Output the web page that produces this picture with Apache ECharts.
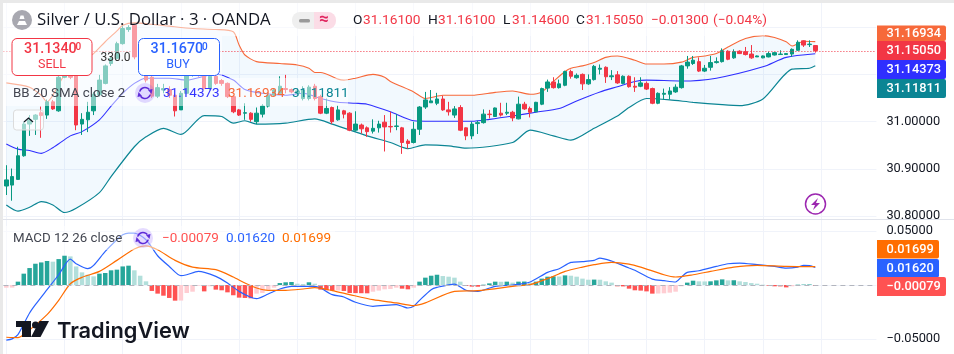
<!DOCTYPE html>
<html>
<head>
<meta charset="utf-8">
<title>Silver / U.S. Dollar</title>
<script src="https://cdn.jsdelivr.net/npm/echarts@6/dist/echarts.min.js"></script>
<style>
  html, body { margin: 0; padding: 0; background: #fff; }
  #chart { width: 954px; height: 354px; }
</style>
</head>
<body>
<div id="chart"></div>
<script>
// values, one entry per 3 minute bar
const candleOpen = [
  30.864,30.866,30.878,30.928,30.995,31.005,31.019,31.014,31.042,31.023,
  31.094,31.097,31.099,30.995,31.004,31.023,31.057,31.081,31.123,31.134,
  31.165,31.195,31.204,31.137,31.116,31.094,31.054,31.067,31.068,31.056,
  31.025,31.06,31.099,31.123,31.099,31.07,31.096,31.087,31.081,31.053,
  31.025,31.018,31.018,31.0,31.016,31.033,31.056,31.06,31.07,31.068,
  31.06,31.049,31.049,31.075,31.053,31.018,31.03,31.004,31.023,31.018,
  30.982,30.993,30.987,30.98,30.987,30.999,30.99,30.99,30.987,30.959,
  30.956,30.984,31.031,31.04,31.039,31.048,31.025,31.014,31.03,30.987,
  30.97,30.996,30.998,31.016,31.011,31.018,31.018,31.02,31.006,31.037,
  31.028,31.021,31.037,31.071,31.084,31.072,31.077,31.106,31.093,31.1,
  31.08,31.089,31.111,31.115,31.095,31.099,31.081,31.096,31.075,31.075,
  31.081,31.07,31.039,31.058,31.058,31.063,31.072,31.118,31.123,31.127,
  31.107,31.115,31.125,31.127,31.149,31.135,31.149,31.148,31.143,31.137,
  31.135,31.137,31.141,31.142,31.142,31.143,31.151,31.171,31.163,31.161
];
const candleClose = [
  30.877,30.884,30.928,30.995,31.004,31.014,31.013,31.042,31.027,31.094,
  31.099,31.094,30.993,31.005,31.02,31.058,31.088,31.118,31.134,31.165,
  31.197,31.199,31.137,31.116,31.088,31.054,31.072,31.07,31.056,31.023,
  31.06,31.099,31.116,31.099,31.07,31.096,31.081,31.081,31.053,31.021,
  31.014,31.019,31.005,31.018,31.033,31.056,31.067,31.075,31.068,31.063,
  31.065,31.067,31.073,31.049,31.018,31.028,31.0,31.025,31.016,30.982,
  30.995,30.985,30.979,30.986,30.995,30.989,30.989,30.991,30.956,30.954,
  30.984,31.031,31.046,31.044,31.048,31.025,31.021,31.027,30.982,30.97,
  30.995,30.998,31.016,31.015,31.029,31.014,31.02,31.008,31.037,31.027,
  31.02,31.041,31.07,31.084,31.072,31.08,31.106,31.096,31.098,31.08,
  31.089,31.117,31.113,31.095,31.097,31.082,31.096,31.074,31.073,31.082,
  31.069,31.039,31.06,31.06,31.065,31.073,31.118,31.126,31.13,31.107,
  31.113,31.125,31.127,31.15,31.132,31.148,31.144,31.142,31.135,31.139,
  31.139,31.144,31.146,31.143,31.144,31.153,31.168,31.162,31.164,31.1505
];
const candleLow = [
  30.845,30.833,30.877,30.926,30.97,30.972,30.966,31.006,31.025,31.021,
  31.092,31.09,30.982,30.972,30.978,31.014,31.053,31.079,31.118,31.132,
  31.163,31.19,31.132,31.11,31.083,31.05,31.05,31.06,31.05,31.011,
  31.025,31.058,31.095,31.095,31.068,31.066,31.078,31.076,31.05,31.018,
  31.012,31.004,31.0,30.995,31.009,31.03,31.054,31.058,31.06,31.06,
  31.055,31.045,31.045,31.045,31.016,31.016,30.995,31.002,31.007,30.98,
  30.979,30.975,30.968,30.975,30.977,30.937,30.977,30.982,30.932,30.943,
  30.954,30.972,31.027,31.04,31.035,31.023,31.013,31.008,30.98,30.961,
  30.963,30.974,30.996,31.007,31.01,31.011,31.014,31.001,31.005,31.025,
  31.009,31.02,31.035,31.063,31.07,31.07,31.075,31.091,31.091,31.067,
  31.078,31.087,31.1,31.082,31.088,31.08,31.079,31.072,31.063,31.073,
  31.067,31.037,31.037,31.047,31.047,31.061,31.07,31.112,31.12,31.105,
  31.105,31.108,31.123,31.125,31.13,31.133,31.143,31.14,31.133,31.137,
  31.134,31.136,31.14,31.141,31.141,31.137,31.15,31.158,31.158,31.146
];
const candleHigh = [
  30.908,30.901,30.947,31.0,31.014,31.016,31.032,31.047,31.046,31.099,
  31.116,31.105,31.101,31.018,31.042,31.063,31.099,31.121,31.138,31.169,
  31.202,31.204,31.206,31.14,31.12,31.098,31.08,31.08,31.075,31.06,
  31.065,31.105,31.12,31.128,31.104,31.102,31.1,31.09,31.083,31.055,
  31.027,31.039,31.02,31.03,31.037,31.06,31.07,31.096,31.099,31.07,
  31.07,31.075,31.077,31.08,31.057,31.049,31.032,31.034,31.025,31.02,
  31.022,30.996,30.99,31.005,31.002,31.014,31.021,31.016,30.989,30.963,
  31.0,31.033,31.063,31.067,31.061,31.055,31.042,31.033,31.035,30.988,
  31.0,31.002,31.026,31.025,31.03,31.04,31.04,31.023,31.053,31.042,
  31.032,31.042,31.072,31.089,31.094,31.089,31.108,31.11,31.102,31.102,
  31.1,31.12,31.121,31.117,31.109,31.107,31.098,31.098,31.094,31.094,
  31.085,31.072,31.062,31.07,31.073,31.079,31.12,31.139,31.139,31.136,
  31.12,31.139,31.136,31.155,31.151,31.153,31.151,31.158,31.162,31.14,
  31.14,31.148,31.147,31.151,31.145,31.155,31.172,31.172,31.172,31.161
];

// Bollinger bands as [bar, value], read at the places where the curves bend
const bbUpper = [
  [0,31.082],[4,31.073],[6,31.056],[7,31.042],[8,31.056],[10,31.099],[12,31.12],[14,31.137],[15,31.144],[17,31.169],
  [19,31.192],[20,31.204],[22,31.209],[25,31.206],[28,31.202],[32,31.197],[36,31.195],[39,31.19],[40,31.162],[41,31.141],
  [43,31.127],[47,31.123],[50,31.12],[52,31.113],[53,31.104],[54,31.104],[57,31.09],[58,31.088],[60,31.092],[63,31.1],
  [65,31.094],[66,31.085],[70,31.063],[72,31.049],[73,31.051],[75,31.056],[80,31.056],[84,31.062],[87,31.065],[90,31.058],
  [92,31.063],[94,31.085],[96,31.106],[97,31.113],[99,31.118],[101,31.125],[103,31.136],[105,31.139],[108,31.13],[110,31.122],
  [113,31.122],[116,31.126],[118,31.136],[120,31.139],[122,31.144],[124,31.158],[127,31.176],[130,31.182],[132,31.178],[134,31.169],
  [135,31.16],[136,31.165],[137,31.17],[139,31.16934]
];
const bbMiddle = [
  [0,30.953],[2,30.942],[4,30.939],[6,30.933],[8,30.945],[11,30.97],[13,30.979],[16,31.004],[18,31.033],[20,31.06],
  [22,31.081],[24,31.092],[28,31.092],[31,31.088],[36,31.101],[39,31.088],[41,31.068],[44,31.06],[48,31.056],[51,31.06],
  [54,31.049],[57,31.041],[60,31.039],[62,31.037],[66,31.021],[70,31.002],[73,31.001],[80,31.001],[83,31.005],[87,31.012],
  [91,31.02],[95,31.028],[98,31.044],[102,31.063],[105,31.074],[108,31.085],[110,31.088],[116,31.086],[122,31.092],[130,31.116],
  [134,31.136],[139,31.14373]
];
const bbLower = [
  [0,30.824],[2,30.811],[4,30.819],[6,30.831],[8,30.824],[10,30.808],[12,30.817],[16,30.85],[18,30.884],[22,30.947],
  [24,30.968],[27,30.986],[30,30.973],[34,31.013],[37,31.011],[39,30.997],[41,31.002],[43,30.995],[48,30.997],[53,31.006],
  [56,30.995],[62,30.97],[66,30.956],[69,30.943],[72,30.951],[76,30.949],[79,30.944],[87,30.956],[90,30.982],[94,30.97],
  [97,30.961],[101,30.986],[105,31.012],[107,31.03],[110,31.049],[114,31.046],[118,31.041],[123,31.036],[126,31.034],[130,31.048],
  [135,31.111],[138,31.113],[139,31.11811]
];

const macdLine = [
  [0,-0.0511],[1,-0.0499],[2,-0.0459],[3,-0.036],[4,-0.0259],[5,-0.0182],[7,-0.0043],[9,0.0095],[11,0.024],[12,0.0197],
  [14,0.0151],[15,0.0182],[17,0.0311],[19,0.0419],[20,0.0465],[21,0.048],[22,0.048],[24,0.0419],[26,0.0271],[28,0.0172],
  [30,0.0086],[31,0.0095],[33,0.0126],[36,0.008],[38,0.0018],[40,-0.0059],[42,-0.0114],[43,-0.0126],[45,-0.0083],[47,-0.0037],
  [49,-0.0012],[53,-0.0012],[54,-0.0028],[56,-0.0089],[58,-0.0111],[60,-0.016],[63,-0.0197],[67,-0.0182],[68,-0.0197],[69,-0.0213],
  [70,-0.0197],[71,-0.0142],[73,-0.0043],[74,-0.0022],[77,0.0009],[79,-0.0049],[81,-0.0059],[84,-0.0012],[87,0],[90,0.0028],
  [93,0.0117],[95,0.0151],[97,0.0209],[99,0.0216],[101,0.0228],[102,0.0249],[104,0.0222],[106,0.0179],[107,0.0157],[108,0.0136],
  [111,0.0055],[113,0.004],[115,0.0028],[116,0.0074],[117,0.0117],[119,0.0132],[122,0.0172],[124,0.0197],[126,0.0203],[129,0.0188],
  [132,0.0172],[134,0.0157],[136,0.0166],[137,0.0182],[138,0.0179],[139,0.0162]
];
const signalLine = [
  [0,-0.0484],[2,-0.0487],[3,-0.0459],[7,-0.0274],[9,-0.0142],[11,0.0012],[13,0.0071],[16,0.0126],[19,0.0228],[22,0.0333],
  [24,0.0363],[26,0.0326],[29,0.0228],[32,0.0166],[36,0.0142],[39,0.0074],[41,0.0018],[43,-0.0028],[45,-0.0049],[48,-0.0049],
  [51,-0.0037],[53,-0.0025],[56,-0.0052],[59,-0.0089],[63,-0.0136],[67,-0.0166],[70,-0.0191],[72,-0.0166],[77,-0.0059],[81,-0.0052],
  [88,-0.0006],[90,0.0003],[94,0.008],[96,0.0126],[99,0.0166],[101,0.0188],[104,0.0209],[107,0.0194],[109,0.0166],[113,0.0095],
  [115,0.0074],[118,0.0095],[121,0.0126],[125,0.0166],[129,0.0182],[134,0.0172],[139,0.01699]
];
const histogram = [
  -0.0025,-0.0024,0.0031,0.0105,0.0157,0.0197,0.0209,0.0222,0.0216,0.024,
  0.0271,0.0265,0.0172,0.0117,0.0095,0.008,0.0105,0.0111,0.0136,0.0142,
  0.0172,0.0179,0.0136,0.0086,0.0034,-0.0055,-0.008,-0.0099,-0.012,-0.0145,
  -0.0144,-0.0074,-0.0062,-0.0006,-0.0059,-0.0012,-0.0043,-0.0049,-0.0068,-0.0095,
  -0.0117,-0.012,-0.0123,-0.008,-0.0074,-0.0043,-0.0025,0.0018,0.0025,0.0028,
  0.0012,0.0009,0.0025,0.0012,-0.0043,-0.0049,-0.0052,-0.0051,-0.0055,-0.0074,
  -0.0075,-0.0076,-0.0077,-0.0062,-0.0052,-0.004,-0.0037,-0.0025,-0.0034,-0.004,
  -0.0025,0.0031,0.0068,0.0086,0.0095,0.0083,0.0077,0.0068,0.0031,-0.0009,
  -0.0015,-0.0016,0.0003,0.0015,0.0031,0.003,0.0031,0.0022,0.0031,0.0032,
  0.0022,0.0031,0.0059,0.0077,0.008,0.0079,0.0089,0.0086,0.0077,0.0059,
  0.0049,0.005,0.0049,0.0034,0.0022,-0.0012,-0.0013,-0.0034,-0.0049,-0.0052,
  -0.0059,-0.008,-0.0079,-0.0077,-0.0071,-0.0062,-0.0012,0.0022,0.004,0.0034,
  0.0033,0.0034,0.0043,0.0052,0.0043,0.0044,0.0034,0.0028,0.0018,0.0012,
  0.0003,-0.0006,-0.0012,-0.0013,-0.0022,-0.0012,0.0003,0.0004,0.0005,-0.00079
];

const barCount = 150; // empty room right of the last candle
const bars = Array.from({ length: barCount }, (_, i) => String(i));
const lastPrice = 31.1505;

const priceTags = [
  { text: '31.16934', color: '#f7693a' },
  { text: '31.15050', color: '#f23645' },
  { text: '31.14373', color: '#2f2fff' },
  { text: '31.11811', color: '#0b8594' }
];
const macdTags = [
  { text: '0.01699', color: '#ff6d00' },
  { text: '0.01620', color: '#2962ff' },
  { text: '\u22120.00079', color: '#ff5252' }
];

const FONT = 'Roboto, "Noto Sans", sans-serif';

function histColor(i) {
  const v = histogram[i];
  const prev = i > 0 ? histogram[i - 1] : -Infinity;
  if (v >= 0) return prev < v ? '#26a69a' : '#b2dfdb';
  return prev < v ? '#ffcdd2' : '#ff5252';
}

function label(x, y, text, fill, size, extra) {
  return {
    type: 'text',
    z: 60,
    style: Object.assign({
      x: x, y: y, text: text, fill: fill,
      font: (extra && extra.weight ? extra.weight + ' ' : '') + size + 'px ' + FONT,
      textVerticalAlign: 'middle',
      textAlign: (extra && extra.align) || 'left'
    })
  };
}

function box(x, y, w, h, fill, r, stroke, z) {
  return {
    type: 'rect',
    z: z || 50,
    shape: { x: x, y: y, width: w, height: h, r: r || 0 },
    style: { fill: fill, stroke: stroke || null, lineWidth: stroke ? 1 : 0 }
  };
}

function syncIcon(cx, cy) {
  return [
    { type: 'circle', z: 55, shape: { cx: cx, cy: cy, r: 10 }, style: { fill: 'rgba(124,77,255,0.2)' } },
    { type: 'arc', z: 56, shape: { cx: cx, cy: cy, r: 5.5, startAngle: 3.4, endAngle: 5.6 }, style: { stroke: '#5e2bd8', fill: null, lineWidth: 1.6 } },
    { type: 'arc', z: 56, shape: { cx: cx, cy: cy, r: 5.5, startAngle: 0.3, endAngle: 2.5 }, style: { stroke: '#5e2bd8', fill: null, lineWidth: 1.6 } },
    { type: 'polygon', z: 56, shape: { points: [[cx + 3, cy - 3], [cx + 7.5, cy - 4], [cx + 6.5, cy + 1]] }, style: { fill: '#5e2bd8' } },
    { type: 'polygon', z: 56, shape: { points: [[cx - 3, cy + 3], [cx - 7.5, cy + 4], [cx - 6.5, cy - 1]] }, style: { fill: '#5e2bd8' } }
  ];
}

const TEXT_DARK = '#131722';
const graphics = [
  // page frame and pane separator
  box(0, 0, 954, 3, '#e9e9e9', 0, null, 70),
  box(0, 0, 3, 354, '#e9e9e9', 0, null, 70),
  box(877, 219, 77, 6, '#ffffff', 0, null, 45),
  box(3, 219, 951, 1, '#e0e3eb', 0, null, 46),

  // the legend rows wash out what is under them
  box(3, 3, 762, 33, 'rgba(255,255,255,0.5)'),
  box(3, 36, 219, 42, 'rgba(255,255,255,0.5)'),
  box(3, 78, 345, 28, 'rgba(255,255,255,0.5)'),
  box(3, 226, 332, 24, 'rgba(255,255,255,0.5)'),

  // title row
  { type: 'circle', z: 60, shape: { cx: 22, cy: 20, r: 10 }, style: { fill: '#a8a8b0' } },
  { type: 'polygon', z: 61, shape: { points: [[17, 25], [27, 25], [25, 21], [19, 21]] }, style: { fill: '#fff' } },
  { type: 'polygon', z: 61, shape: { points: [[19.5, 19], [24.5, 19], [23.5, 15.5], [20.5, 15.5]] }, style: { fill: '#fff' } },
  { type: 'text', z: 60, style: { x: 37, y: 20.5, text: 'Silver / U.S. Dollar \u00b7 3 \u00b7 OANDA', fill: TEXT_DARK, font: '16.8px "Open Sans", Roboto, sans-serif', textVerticalAlign: 'middle' } },
  box(292, 12, 22, 17, '#efefef', [8, 0, 0, 8]),
  box(314, 12, 22, 17, '#fbdce6', [0, 8, 8, 0]),
  box(299, 19, 11, 3.5, '#9a9a9a', 1.5, null, 60),
  label(319, 20, '\u2248', '#e0245e', 17, { weight: 700 }),

  // OHLC row
  label(353, 20.5, 'O', TEXT_DARK, 13.7),
  label(363, 20.5, '31.16100', '#f23645', 13.7),
  label(428, 20.5, 'H', TEXT_DARK, 13.7),
  label(438, 20.5, '31.16100', '#f23645', 13.7),
  label(503, 20.5, 'L', TEXT_DARK, 13.7),
  label(512, 20.5, '31.14600', '#f23645', 13.7),
  label(576, 20.5, 'C', TEXT_DARK, 13.7),
  label(586, 20.5, '31.15050', '#f23645', 13.7),
  label(651, 20.5, '\u22120.01300', '#f23645', 13.7),
  label(713, 20.5, '(\u22120.04%)', '#f23645', 13.7),

  // sell and buy buttons
  box(12, 38.5, 80, 37, '#fff', 5, '#f23645', 55),
  label(24, 49.5, '31.1340', '#f23645', 14.3, { weight: 500 }),
  label(75.5, 47, '0', '#f23645', 10, { weight: 500 }),
  label(52, 64.5, 'SELL', '#f23645', 12.5, { align: 'center' }),
  box(138.5, 38.5, 81, 37, '#fff', 5, '#2962ff', 55),
  label(150.5, 49.5, '31.1670', '#2962ff', 14.3, { weight: 500 }),
  label(202, 47, '0', '#2962ff', 10, { weight: 500 }),
  label(178, 64.5, 'BUY', '#2962ff', 12.5, { align: 'center' }),
  label(115.5, 57.5, '330.0', '#333', 12, { align: 'center' }),

  // indicator legends
  label(13, 93.5, 'BB 20 SMA close 2', '#434651', 13.3),
  ...syncIcon(145, 93),
  label(163, 93.5, '31.14373', '#3434ff', 13.5),
  label(228, 93.5, '31.16934', '#f7693a', 13.5),
  label(292, 93.5, '31.11811', '#0b8594', 13.5),
  label(13, 238.5, 'MACD 12 26 close', '#434651', 13.3),
  ...syncIcon(143, 238),
  label(162, 238.5, '\u22120.00079', '#ff5252', 13.5),
  label(226, 238.5, '0.01620', '#2962ff', 13.5),
  label(282, 238.5, '0.01699', '#ff6d00', 13.5),

  // collapse button
  box(13.5, 110, 30, 20, 'rgba(255,255,255,0.6)', 3, '#dcdcdc', 55),
  { type: 'polyline', z: 56, shape: { points: [[24, 122], [28.5, 118], [33, 122]] }, style: { stroke: '#131722', fill: null, lineWidth: 1.2 } },

  // lightning badge
  { type: 'circle', z: 60, shape: { cx: 815.5, cy: 204, r: 10 }, style: { fill: '#fff', stroke: '#9c27b0', lineWidth: 1.5 } },
  { type: 'polygon', z: 61, shape: { points: [[818, 198], [811, 205], [815, 205], [813, 210], [820, 203], [816, 203]] }, style: { fill: '#9c27b0' } },

  // TradingView mark
  { type: 'polygon', z: 60, shape: { points: [[16, 321], [31, 321], [31, 337], [22, 337], [22, 327], [16, 327]] }, style: { fill: '#131722' } },
  { type: 'circle', z: 60, shape: { cx: 35.5, cy: 325, r: 3.5 }, style: { fill: '#131722' } },
  { type: 'polygon', z: 60, shape: { points: [[39.5, 321], [49, 321], [40.5, 337], [31, 337]] }, style: { fill: '#131722' } },
  { type: 'text', z: 60, style: { x: 57, y: 331, text: 'TradingView', fill: '#131722', font: '600 21.8px Inter, Roboto, sans-serif', textVerticalAlign: 'middle' } }
];

// axis tags, stacked the way the price scale stacks them
const priceTagY = [25.5, 41, 60, 79];
const priceTagH = [15.5, 19, 19, 19];
priceTags.forEach((t, i) => {
  graphics.push(box(877, priceTagY[i], 69, priceTagH[i], t.color, [0, 2, 2, 0], null, 65));
  graphics.push(Object.assign(label(886.5, priceTagY[i] + priceTagH[i] / 2 + 0.5, t.text, '#fff', 12.8, { weight: 500 }), { z: 66 }));
});
const macdTagY = [240, 259, 277];
const macdTagW = [62, 62, 69];
macdTags.forEach((t, i) => {
  graphics.push(box(877, macdTagY[i], macdTagW[i], i === 2 ? 19 : 18.5, t.color, [0, 2, 2, 0], null, 65));
  graphics.push(Object.assign(label(886.5, macdTagY[i] + 9.5, t.text, '#fff', 12.8, { weight: 500 }), { z: 66 }));
});

const GRID_LINE = '#f0f3fa';
const xAxisBase = {
  type: 'category',
  data: bars,
  axisLine: { show: false },
  axisTick: { show: false },
  axisLabel: { show: false },
  splitLine: { show: true, interval: 9, alignWithLabel: true, lineStyle: { color: GRID_LINE, width: 1 } }
};
const axisText = { color: '#131722', fontSize: 12.8, fontFamily: FONT, margin: 10, align: 'left' };

const option = {
  animation: false,
  backgroundColor: '#fff',
  // both grids run past the canvas, so the tick steps stay round
  grid: [
    { left: 3.4, width: 873, top: -20.2, height: 283.8, outerBoundsMode: 'none', containLabel: false },
    { left: 3.4, width: 873, top: 177, height: 216, outerBoundsMode: 'none', containLabel: false }
  ],
  xAxis: [
    Object.assign({ gridIndex: 0 }, xAxisBase),
    Object.assign({ gridIndex: 1 }, xAxisBase)
  ],
  yAxis: [
    {
      type: 'value', gridIndex: 0, position: 'right',
      min: 30.7, max: 31.3, interval: 0.1, scale: true,
      axisLine: { show: false }, axisTick: { show: false },
      // the tags cover the upper ticks
      axisLabel: Object.assign({ showMinLabel: false, showMaxLabel: false, formatter: v => (v > 31.05 ? '' : v.toFixed(5)) }, axisText),
      splitLine: { showMinLine: false, showMaxLine: false, lineStyle: { color: GRID_LINE } }
    },
    {
      type: 'value', gridIndex: 1, position: 'right',
      min: -0.1, max: 0.1, interval: 0.05,
      axisLine: { show: false }, axisTick: { show: false },
      axisLabel: Object.assign({ showMinLabel: false, showMaxLabel: false, formatter: v => (v === 0 ? '' : (v < 0 ? '\u2212' : '') + Math.abs(v).toFixed(5)) }, axisText),
      splitLine: { showMinLine: false, showMaxLine: false, lineStyle: { color: GRID_LINE } }
    }
  ],
  graphic: graphics,
  series: [
    {
      name: 'band',
      type: 'custom',
      xAxisIndex: 0, yAxisIndex: 0,
      z: 1,
      silent: true,
      data: [0],
      renderItem: function (params, api) {
        const pts = bbUpper.concat(bbLower.slice().reverse()).map(p => api.coord(p));
        return { type: 'polygon', shape: { points: pts, smooth: 0 }, style: { fill: 'rgba(33,150,243,0.06)' } };
      }
    },
    {
      name: 'upper', type: 'line', xAxisIndex: 0, yAxisIndex: 0, data: bbUpper, symbol: 'none', smooth: 0.25, z: 3,
      lineStyle: { color: '#f7693a', width: 1.1 }
    },
    {
      name: 'basis', type: 'line', xAxisIndex: 0, yAxisIndex: 0, data: bbMiddle, symbol: 'none', smooth: 0.25, z: 3,
      lineStyle: { color: '#2f2fff', width: 1.1 }
    },
    {
      name: 'lower', type: 'line', xAxisIndex: 0, yAxisIndex: 0, data: bbLower, symbol: 'none', smooth: 0.25, z: 3,
      lineStyle: { color: '#0b8594', width: 1.2 }
    },
    {
      name: 'silver',
      type: 'candlestick',
      xAxisIndex: 0, yAxisIndex: 0,
      z: 4,
      barWidth: 4,
      data: candleOpen.map((o, i) => [o, candleClose[i], candleLow[i], candleHigh[i]]),
      itemStyle: { color: '#089981', color0: '#f23645', borderColor: '#089981', borderColor0: '#f23645', borderWidth: 1 },
      markLine: {
        silent: true, symbol: 'none', animation: false, label: { show: false },
        lineStyle: { color: '#f23645', type: [1, 2], width: 1 },
        data: [{ yAxis: lastPrice }]
      }
    },
    {
      name: 'histogram',
      type: 'bar',
      xAxisIndex: 1, yAxisIndex: 1,
      barWidth: 4.5,
      z: 2,
      data: histogram.map((v, i) => ({ value: v, itemStyle: { color: histColor(i) } })),
      markLine: {
        silent: true, symbol: 'none', animation: false, label: { show: false },
        lineStyle: { color: '#b2b5be', type: [5, 4], width: 1 },
        data: [{ yAxis: 0 }]
      }
    },
    {
      name: 'macd', type: 'line', xAxisIndex: 1, yAxisIndex: 1, data: macdLine, symbol: 'none', smooth: 0.25, z: 4,
      lineStyle: { color: '#2962ff', width: 1.2 }
    },
    {
      name: 'signal', type: 'line', xAxisIndex: 1, yAxisIndex: 1, data: signalLine, symbol: 'none', smooth: 0.25, z: 4,
      lineStyle: { color: '#ff6d00', width: 1.2 }
    }
  ]
};

const chart = echarts.init(document.getElementById('chart'));
chart.setOption(option);
</script>
</body>
</html>
